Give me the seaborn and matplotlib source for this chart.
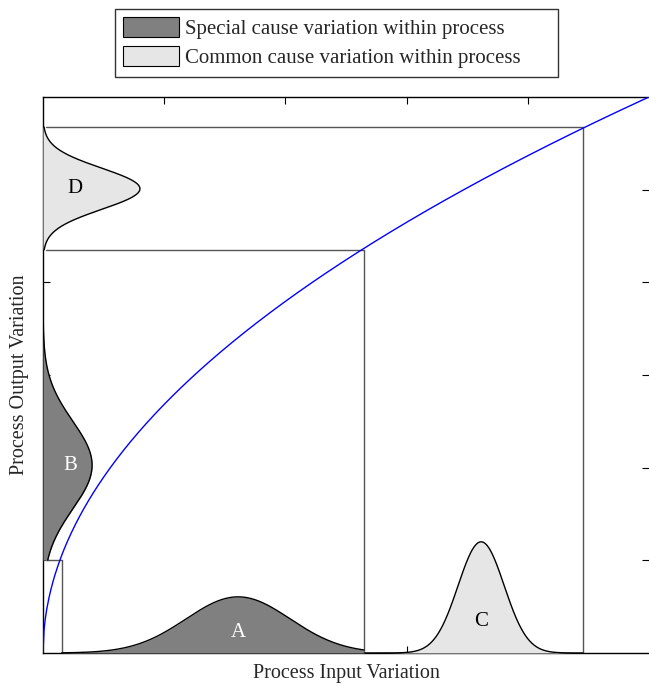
import numpy as np
import pandas as pd
import matplotlib
matplotlib.use("Agg")
import matplotlib.pyplot as plt
from matplotlib.patches import Patch
import seaborn as sns

# Transfer function y = x ** exponent
curve_exponent = 0.5

# Bell-shaped variation profiles: name, centre, spread, peak height, drawn range, kind
dist_names = ["A", "B", "C", "D"]
dist_centres = [0.322, 0.338, 0.723, 0.835]
dist_spreads = [0.086, 0.079, 0.038, 0.037]
dist_peaks = [0.101, 0.081, 0.200, 0.160]
dist_range_lo = [0.031, 0.167, 0.530, 0.725]
dist_range_hi = [0.530, 0.725, 0.891, 0.946]
dist_kind = ["special", "special", "common", "common"]
dist_axis = ["x", "y", "x", "y"]

# Projection guide lines: input value and mapped output value
guide_inputs = [0.031, 0.530, 0.891]
guide_outputs = [0.167, 0.725, 0.946]

legend_labels = ["Special cause variation within process",
                 "Common cause variation within process"]
colors = {"special": "#808080", "common": "#e6e6e6"}

# where each letter sits, as a fraction of its peak height
label_frac = [0.36, 0.55, 0.28, 0.33]

sns.set_theme(style="white")
plt.rcParams["font.family"] = ["Liberation Serif", "DejaVu Serif"]

fig = plt.figure(figsize=(6.49, 6.87), dpi=100)
ax = fig.add_axes([43 / 649, 34 / 687, 606 / 649, 556 / 687])
ax.set_axisbelow(True)

# guide lines
guide_col = "#555555"
for gx, gy in zip(guide_inputs, guide_outputs):
    ax.plot([gx, gx], [0, gy], color=guide_col, lw=1.0, zorder=2)
    ax.plot([0.005, gx], [gy, gy], color=guide_col, lw=1.0, zorder=2)

# distributions
for name, c, s, p, lo, hi, kind, orient, lf in zip(
        dist_names, dist_centres, dist_spreads, dist_peaks,
        dist_range_lo, dist_range_hi, dist_kind, dist_axis, label_frac):
    t = np.linspace(lo, hi, 400)
    h = p * np.exp(-0.5 * ((t - c) / s) ** 2)
    txtcol = "white" if kind == "special" else "black"
    if orient == "x":
        ax.fill_between(t, 0, h, color=colors[kind], lw=0, zorder=3)
        ax.plot(t, h, color="black", lw=1.0, zorder=4)
        ax.text(c, p * lf, name, ha="center", va="center", fontsize=15,
                color=txtcol, zorder=5)
    else:
        ax.fill_betweenx(t, 0, h, color=colors[kind], lw=0, zorder=3)
        ax.plot(h, t, color="black", lw=1.0, zorder=4)
        ax.text(p * lf, c, name, ha="center", va="center", fontsize=15,
                color=txtcol, zorder=5)

# transfer curve
xs = np.linspace(0, 1, 600)
df = pd.DataFrame({"input": xs, "output": xs ** curve_exponent})
sns.lineplot(data=df, x="input", y="output", color="#0000ff", lw=1.0,
             ax=ax, zorder=6, sort=False)

ax.set_xlim(0, 1)
ax.set_ylim(0, 1)
ax.set_xticks([0.2, 0.4, 0.6, 0.8])
ax.set_yticks([1 / 6, 2 / 6, 3 / 6, 4 / 6, 5 / 6])
ax.tick_params(direction="in", length=5, width=0.8, color="black",
               top=True, right=True, bottom=True, left=True,
               labelbottom=False, labelleft=False)
for side in ["left", "bottom", "top"]:
    ax.spines[side].set_color("black")
    ax.spines[side].set_linewidth(1.0)
ax.spines["right"].set_visible(False)

ax.set_xlabel("Process Input Variation", fontsize=14.5, labelpad=8)
ax.set_ylabel("Process Output Variation", fontsize=14.5, labelpad=10)

handles = [Patch(facecolor=colors["special"], edgecolor="black", lw=0.8),
           Patch(facecolor=colors["common"], edgecolor="black", lw=0.8)]
leg = fig.legend(handles, legend_labels, loc="upper left", mode="expand",
                 bbox_to_anchor=(115 / 649, 1 - 75 / 687,
                                 (558 - 115) / 649, 66 / 687),
                 fontsize=15, frameon=True, fancybox=False,
                 handlelength=2.65, handleheight=1.1, handletextpad=0.3,
                 borderpad=0.4, labelspacing=0.32, borderaxespad=0)
leg.get_frame().set_edgecolor("black")
leg.get_frame().set_linewidth(1.0)

fig.savefig("out.png", dpi=100)
